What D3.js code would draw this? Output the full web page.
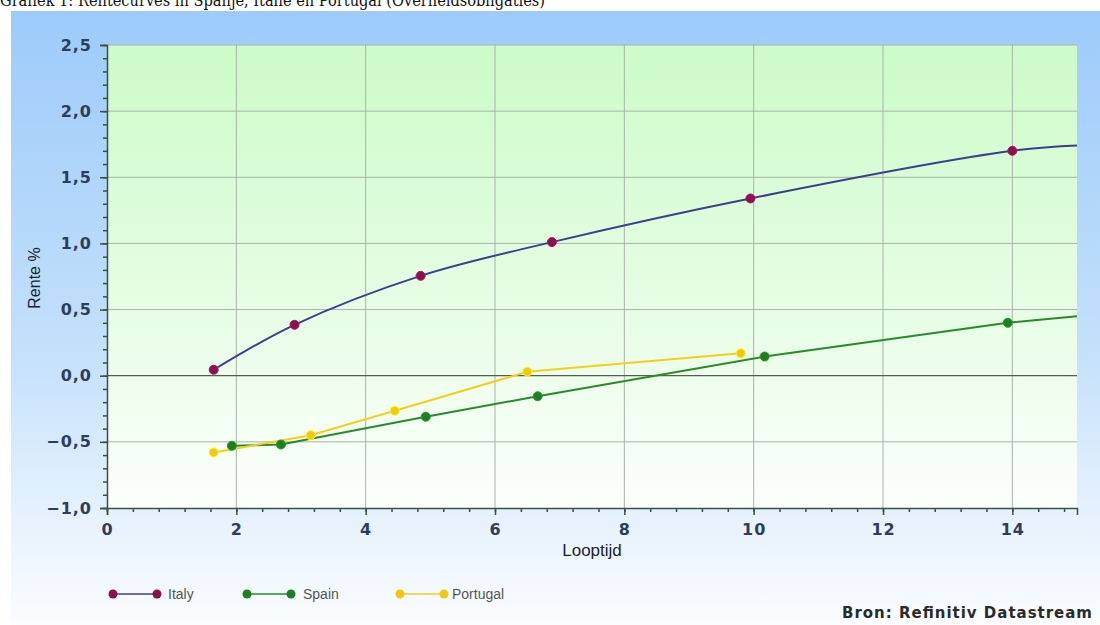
<!DOCTYPE html>
<html>
<head>
<meta charset="utf-8">
<script src="https://cdn.jsdelivr.net/npm/d3@7"></script>
<style>
  html, body { margin: 0; padding: 0; background: #ffffff; }
  svg { display: block; }
</style>
</head>
<body>
<svg id="chart" width="1100" height="625"></svg>
<script>
// Yield curves of government bonds: maturity (years) vs. yield (%)
const title = "Grafiek 1: Rentecurves in Spanje, Italië en Portugal (Overheidsobligaties)";
const seriesNames = ["Italy", "Spain", "Portugal"];

const italyMaturity = [1.65, 2.9, 4.85, 6.88, 9.95, 14.0];
const italyYield    = [0.045, 0.385, 0.755, 1.01, 1.34, 1.70];
const italyTail     = [15, 1.74];   // curve runs on to the axis end, no marker

const spainMaturity = [1.93, 2.69, 4.93, 6.66, 10.17, 13.93];
const spainYield    = [-0.53, -0.52, -0.31, -0.155, 0.145, 0.40];
const spainTail     = [15, 0.45];

const portugalMaturity = [1.65, 3.15, 4.45, 6.5, 9.8];
const portugalYield    = [-0.58, -0.45, -0.265, 0.03, 0.17];

const xTicks = [0, 2, 4, 6, 8, 10, 12, 14];
const yTicks = [-1.0, -0.5, 0.0, 0.5, 1.0, 1.5, 2.0, 2.5];

const lineColors   = ["#3b3f8e", "#2a8a2a", "#f3cf1a"];
const markerColors = ["#8a1150", "#1f7d22", "#f0c814"];

const svg = d3.select("#chart");
const defs = svg.append("defs");

const panelGrad = defs.append("linearGradient").attr("id", "panelGrad")
  .attr("x1", 0).attr("y1", 0).attr("x2", 0).attr("y2", 1);
panelGrad.append("stop").attr("offset", "0%").attr("stop-color", "#9ccbfa");
panelGrad.append("stop").attr("offset", "55%").attr("stop-color", "#c4e0fb");
panelGrad.append("stop").attr("offset", "100%").attr("stop-color", "#fbfdff");

const plotGrad = defs.append("linearGradient").attr("id", "plotGrad")
  .attr("x1", 0).attr("y1", 0).attr("x2", 0).attr("y2", 1);
plotGrad.append("stop").attr("offset", "0%").attr("stop-color", "#ccfbc8");
plotGrad.append("stop").attr("offset", "100%").attr("stop-color", "#fbfffb");

// Title above the panel
svg.append("text")
  .attr("x", 0).attr("y", 6)
  .attr("font-family", "'DejaVu Serif', 'Liberation Serif', serif")
  .attr("font-size", 16)
  .attr("textLength", 545)
  .attr("lengthAdjust", "spacingAndGlyphs")
  .attr("fill", "#111")
  .text(title);

// Chart panel
svg.append("rect")
  .attr("x", 11).attr("y", 11).attr("width", 1089).attr("height", 614)
  .attr("fill", "url(#panelGrad)");

const plot = { left: 107, right: 1077, top: 45, bottom: 508 };

const x = d3.scaleLinear().domain([0, 15]).range([plot.left, plot.right]);
const y = d3.scaleLinear().domain([-1.0, 2.5]).range([plot.bottom, plot.top]);

svg.append("rect")
  .attr("x", plot.left).attr("y", plot.top)
  .attr("width", plot.right - plot.left).attr("height", plot.bottom - plot.top)
  .attr("fill", "url(#plotGrad)");

// Grid lines
const grid = svg.append("g");
grid.selectAll("line.v").data(xTicks.filter(t => t > 0)).join("line")
  .attr("x1", d => x(d)).attr("x2", d => x(d))
  .attr("y1", plot.top).attr("y2", plot.bottom)
  .attr("stroke", "#a9b3a9").attr("stroke-width", 1);
grid.selectAll("line.h").data(yTicks.filter(t => t > -1.0 && t !== 0)).join("line")
  .attr("x1", plot.left).attr("x2", plot.right)
  .attr("y1", d => y(d)).attr("y2", d => y(d))
  .attr("stroke", "#a9b3a9").attr("stroke-width", 1);
grid.append("line")
  .attr("x1", plot.left).attr("x2", plot.right)
  .attr("y1", y(0)).attr("y2", y(0))
  .attr("stroke", "#555c55").attr("stroke-width", 1.3);

const fmt = d3.formatLocale({ decimal: ",", thousands: ".", grouping: [3], currency: ["€", ""] }).format(".1f");
const axisColor = "#3a5040";
const labelColor = "#2d3d5c";

// Y axis: major labelled ticks plus minor ticks every 0.1
svg.append("g").attr("transform", `translate(${plot.left},0)`)
  .call(d3.axisLeft(y).tickValues(yTicks).tickFormat(fmt).tickSize(7).tickPadding(8));
svg.append("g").attr("transform", `translate(${plot.left},0)`)
  .call(d3.axisLeft(y).tickValues(d3.range(-10, 26).map(v => v / 10)).tickFormat("").tickSize(4))
  .call(g => g.select(".domain").remove());

// X axis: major labelled ticks plus minor ticks every 0.4
const xAxis = svg.append("g").attr("transform", `translate(0,${plot.bottom})`)
  .call(d3.axisBottom(x).tickValues(xTicks).tickFormat(d3.format("d")).tickSize(7).tickPadding(8));
svg.append("g").attr("transform", `translate(0,${plot.bottom})`)
  .call(d3.axisBottom(x).tickValues(d3.range(0, 38).map(v => v * 0.4)).tickFormat("").tickSize(4))
  .call(g => g.select(".domain").remove());

svg.selectAll(".domain").attr("stroke", axisColor).attr("stroke-width", 1.5);
svg.selectAll(".tick line").attr("stroke", axisColor).attr("stroke-width", 1.5);
svg.selectAll(".tick text")
  .attr("font-family", "'DejaVu Sans', Verdana, sans-serif")
  .attr("font-size", 16)
  .attr("font-weight", 600)
  .attr("letter-spacing", 1)
  .attr("fill", labelColor);
xAxis.selectAll(".tick text").attr("dy", "0.75em");

// Axis titles
svg.append("text")
  .attr("x", 592).attr("y", 556)
  .attr("text-anchor", "middle")
  .attr("font-family", "'Liberation Sans', Arial, sans-serif")
  .attr("font-size", 17)
  .attr("fill", "#1a2232")
  .text("Looptijd");
svg.append("text")
  .attr("transform", "translate(40,278) rotate(-90)")
  .attr("text-anchor", "middle")
  .attr("font-family", "'Liberation Sans', Arial, sans-serif")
  .attr("font-size", 16)
  .attr("fill", "#1a2232")
  .text("Rente %");

// Series
const series = [
  { name: seriesNames[0], pts: italyMaturity.map((m, i) => [m, italyYield[i]]), tail: italyTail, curve: d3.curveCatmullRom.alpha(0.5) },
  { name: seriesNames[1], pts: spainMaturity.map((m, i) => [m, spainYield[i]]), tail: spainTail, curve: d3.curveLinear },
  { name: seriesNames[2], pts: portugalMaturity.map((m, i) => [m, portugalYield[i]]), tail: null, curve: d3.curveLinear }
];

series.forEach((s, i) => {
  const pathPts = s.tail ? s.pts.concat([s.tail]) : s.pts;
  const line = d3.line().x(d => x(d[0])).y(d => y(d[1])).curve(s.curve);
  svg.append("path")
    .datum(pathPts)
    .attr("d", line)
    .attr("fill", "none")
    .attr("stroke", lineColors[i])
    .attr("stroke-width", 2);
});
series.forEach((s, i) => {
  svg.append("g").selectAll("circle").data(s.pts).join("circle")
    .attr("cx", d => x(d[0])).attr("cy", d => y(d[1]))
    .attr("r", 4.5)
    .attr("fill", markerColors[i])
    .attr("stroke", d3.color(markerColors[i]).brighter(0.6))
    .attr("stroke-width", 1);
});

// Legend
const legendX = [113, 247, 400];
const legend = svg.append("g");
series.forEach((s, i) => {
  const g = legend.append("g").attr("transform", `translate(${legendX[i]},594)`);
  g.append("line").attr("x1", 0).attr("x2", 44).attr("y1", 0).attr("y2", 0)
    .attr("stroke", lineColors[i]).attr("stroke-width", 1.5);
  g.selectAll("circle").data([0, 44]).join("circle")
    .attr("cx", d => d).attr("cy", 0).attr("r", 4.5)
    .attr("fill", markerColors[i]);
  g.append("text")
    .attr("x", i === 2 ? 52 : (i === 0 ? 55 : 56)).attr("y", 5)
    .attr("font-family", "'Liberation Sans', Arial, sans-serif")
    .attr("font-size", 14)
    .attr("fill", "#555")
    .text(s.name);
});

// Source note
svg.append("text")
  .attr("x", 1092).attr("y", 618)
  .attr("text-anchor", "end")
  .attr("font-family", "'DejaVu Sans', Verdana, sans-serif")
  .attr("font-size", 15)
  .attr("font-weight", 600)
  .attr("textLength", 250)
  .attr("lengthAdjust", "spacing")
  .attr("fill", "#2a2a2a")
  .text("Bron: Refinitiv Datastream");
</script>
</body>
</html>
